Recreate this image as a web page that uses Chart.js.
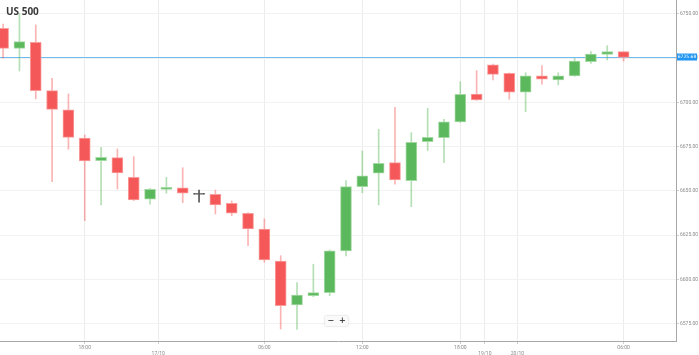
<!DOCTYPE html>
<html>
<head>
<meta charset="utf-8">
<script src="https://cdn.jsdelivr.net/npm/chart.js@4.4.1/dist/chart.umd.min.js"></script>
<style>
  html, body { margin: 0; padding: 0; background: #fff; }
  #wrap { position: relative; width: 699px; height: 355px; overflow: hidden; }
  #title { position: absolute; left: 6px; top: 4px; font: bold 10px "Open Sans", "DejaVu Sans", sans-serif; color: #3a3a3a; }
  #zoom { position: absolute; left: 325px; top: 316px; width: 23px; height: 10px; background: #fafafa;
          box-shadow: 0 0 2px rgba(0,0,0,0.25); border-radius: 1px; font: bold 8px "DejaVu Sans", sans-serif;
          color: #444; display: flex; justify-content: space-around; align-items: center; line-height: 10px; }
</style>
</head>
<body>
<div id="wrap">
  <canvas id="c" width="699" height="355"></canvas>
  <div id="title">US 500</div>
  <div id="zoom"><span>−</span><span>+</span></div>
</div>
<script>
// ---- data (hourly candles, index = candle position) ----
const openVals  = [6741.9,6730.6,6734.0,6706.7,6695.8,6679.8,6667.1,6668.8,6657.7,6645.3,6650.9,6651.8,6648.1,6648.1,6643.0,6637.4,6628.5,6610.4,6585.6,6590.8,6592.5,6616.1,6652.4,6660.0,6666.0,6655.8,6677.8,6680.1,6689.0,6704.8,6721.2,6716.5,6705.8,6715.1,6712.7,6715.0,6723.0,6727.2,6728.7];
const highVals  = [6744.3,6750.3,6743.8,6713.7,6704.8,6681.6,6674.7,6673.7,6669.4,6651.5,6657.7,6663.1,6650.5,6650.5,6644.3,6637.8,6634.2,6613.4,6598.2,6608.6,6616.6,6655.8,6672.6,6684.8,6697.3,6682.9,6696.7,6690.5,6711.7,6718.0,6721.7,6716.7,6716.8,6720.8,6716.8,6725.0,6728.7,6732.1,6728.7];
const lowVals   = [6725.0,6717.8,6702.0,6655.2,6673.5,6633.2,6642.1,6651.1,6644.6,6642.5,6648.7,6643.4,6643.6,6637.0,6636.0,6619.1,6609.7,6572.0,6571.8,6590.3,6590.8,6613.3,6649.0,6642.1,6653.8,6641.1,6672.8,6666.0,6688.7,6701.1,6712.7,6701.8,6694.8,6710.3,6709.9,6714.7,6722.1,6724.0,6723.4];
const closeVals = [6730.6,6734.4,6706.7,6696.1,6680.3,6666.9,6669.0,6660.2,6644.9,6650.9,6652.1,6648.7,6648.1,6642.1,6637.4,6628.5,6611.0,6585.2,6591.2,6592.5,6616.1,6652.4,6658.6,6665.6,6656.2,6677.5,6680.3,6689.1,6704.6,6701.4,6715.9,6705.8,6715.0,6713.1,6715.0,6723.4,6727.4,6728.7,6725.5];
const xTickPos    = [5, 9.5, 16, 22, 28, 29.5, 31.5, 38];
const xTickLabels = ['18:00', '17/10', '06:00', '12:00', '18:00', '19/10', '20/10', '06:00'];
const dateTicks   = ['17/10', '19/10', '20/10'];
const yTicks      = [6575, 6600, 6625, 6650, 6675, 6700, 6725, 6750];
const lastPrice   = 6725.68;

// ---- styles ----
const RED = '#f55858', RED_B = '#fa9c9c', RED_W = 'rgba(245,88,88,0.45)';
const GRN = '#5cb85c', GRN_B = '#a3d9a3', GRN_W = 'rgba(92,184,92,0.45)';
const DOJI = '#555555';
const dir = (i) => closeVals[i] > openVals[i] ? 1 : (closeVals[i] < openVals[i] ? -1 : 0);

const bodies = openVals.map((o, i) => ({ x: i, y: [o, closeVals[i]] }));
const wicks  = openVals.map((o, i) => ({ x: i, y: [lowVals[i], highVals[i]] }));

const priceLine = {
  id: 'priceLine',
  beforeDatasetsDraw(chart) {
    const { ctx, chartArea } = chart;
    const y = Math.round(chart.scales.y.getPixelForValue(lastPrice));
    ctx.save();
    ctx.fillStyle = '#6cbcf2';
    ctx.fillRect(chartArea.left, y, chartArea.right - chartArea.left, 1);
    ctx.restore();
  },
  afterDraw(chart) {
    const { ctx, chartArea } = chart;
    const yv = chart.scales.y.getPixelForValue(lastPrice);
    ctx.save();
    ctx.fillStyle = '#2196f3';
    ctx.fillRect(chartArea.right + 1, yv - 3.5, 20, 7);
    ctx.fillStyle = '#ffffff';
    ctx.font = '4.5px "DejaVu Sans", sans-serif';
    ctx.textBaseline = 'middle';
    ctx.textAlign = 'center';
    ctx.fillText(lastPrice.toFixed(2), chartArea.right + 11, yv + 0.3);
    ctx.restore();
  }
};

new Chart(document.getElementById('c'), {
  type: 'bar',
  data: {
    datasets: [
      {
        data: bodies,
        barThickness: 11,
        minBarLength: 1,
        grouped: false,
        borderSkipped: false,
        borderWidth: 1,
        backgroundColor: bodies.map((_, i) => dir(i) > 0 ? GRN : dir(i) < 0 ? RED : DOJI),
        borderColor: bodies.map((_, i) => dir(i) > 0 ? GRN_B : dir(i) < 0 ? RED_B : DOJI),
      },
      {
        data: wicks,
        barThickness: 1,
        grouped: false,
        borderWidth: 0,
        backgroundColor: wicks.map((_, i) => dir(i) > 0 ? GRN_W : dir(i) < 0 ? RED_W : DOJI),
      }
    ]
  },
  options: {
    responsive: false,
    animation: false,
    layout: { padding: 0 },
    plugins: { legend: { display: false }, tooltip: { enabled: false }, title: { display: false } },
    scales: {
      x: {
        type: 'linear',
        offset: false,
        min: -0.19,
        max: 41.21,
        afterFit(s) { s.height = 14; s.paddingLeft = 0; s.paddingRight = 0; s.paddingTop = 0; s.paddingBottom = 0; },
        afterBuildTicks(s) { s.ticks = xTickPos.map(v => ({ value: v })); },
        grid: { offset: false, color: '#ececec', tickLength: 3, drawTicks: true, tickColor: '#cfcfcf' },
        border: { color: '#a8a8a8' },
        ticks: {
          autoSkip: false, maxRotation: 0, padding: 1,
          font: { size: 5, family: 'Roboto, "DejaVu Sans", sans-serif', lineHeight: 1.2 },
          color: '#8a8a8a',
          callback(v, idx) {
            const l = xTickLabels[idx];
            return dateTicks.includes(l) ? ['', l] : l;
          }
        }
      },
      y: {
        type: 'linear',
        position: 'right',
        min: 6565.2,
        max: 6757.9,
        afterFit(s) { s.width = 23; s.paddingTop = 0; s.paddingBottom = 0; s.paddingLeft = 0; s.paddingRight = 0; },
        afterBuildTicks(s) { s.ticks = yTicks.map(v => ({ value: v })); },
        grid: { color: '#f2f2f2', tickLength: 3, tickColor: '#cfcfcf' },
        border: { color: '#a8a8a8' },
        ticks: {
          padding: 1,
          font: { size: 5, family: 'Roboto, "DejaVu Sans", sans-serif' },
          color: '#8a8a8a',
          callback(v) { return Number(v).toFixed(2); }
        }
      }
    }
  },
  plugins: [priceLine]
});
</script>
</body>
</html>
